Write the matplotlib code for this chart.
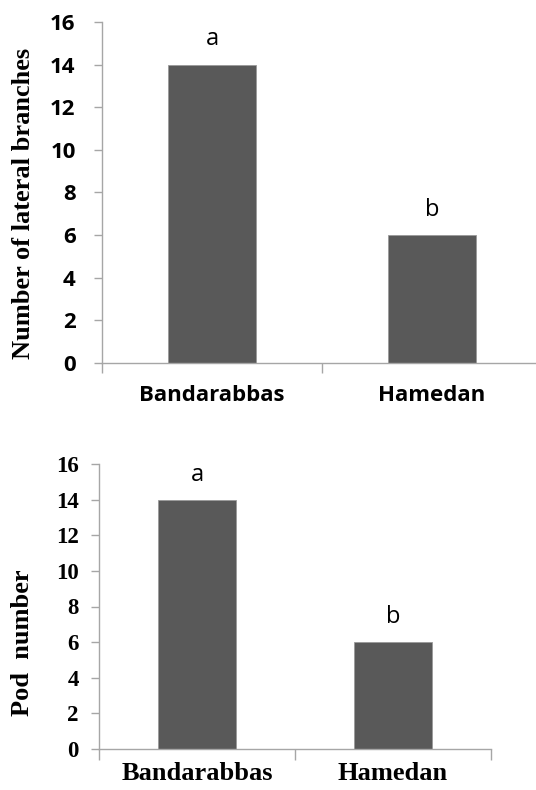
import matplotlib
matplotlib.use("Agg")
from matplotlib import pyplot as plt

sites = ['Bandarabbas', 'Hamedan']
lateral_branches = [14, 6]
pod_number = [14, 6]
letters = ['a', 'b']
y_ticks = [0, 2, 4, 6, 8, 10, 12, 14, 16]

bar_color = '#595959'
axis_color = '#a6a6a6'

fig = plt.figure(figsize=(5.36, 7.9), dpi=100)

# top panel (Calibri-like sans labels)
ax1 = fig.add_axes([102 / 536, 1 - 363 / 790, 440 / 536, 341 / 790])
# bottom panel (Times labels)
ax2 = fig.add_axes([99 / 536, 1 - 749 / 790, 392 / 536, 285 / 790])

panels = [
    (ax1, lateral_branches, 'Number of lateral branches', 'Open Sans', 16, 13, 16, 16,
     (-0.152, 0.469), 1.2, 7),
    (ax2, pod_number, 'Pod  number', 'Liberation Serif', 16.5, 8.5, 19, 9,
     (-0.165, 0.372), 1.4, 8),
]

for ax, vals, ylab, fam, tsize, tpad, xsize, xpad, lab_xy, off, xtl in panels:
    ax.bar(range(len(sites)), vals, width=0.4, color=bar_color,
           edgecolor='#9a9a9a', linewidth=0.6, zorder=2)
    for i, v in enumerate(vals):
        ax.text(i, v + off, letters[i], ha='center', va='center',
                fontsize=17, family='Open Sans', color='black')
    ax.set_xlim(-0.5, len(sites) - 0.5)
    ax.set_ylim(0, 16)
    ax.set_yticks(y_ticks)
    ax.set_yticklabels([str(t) for t in y_ticks], fontsize=tsize,
                       family=fam, fontweight='bold')
    ax.set_xticks([-0.5, 0.5, 1.5])
    ax.set_xticklabels([])
    ax.set_xticks([0, 1], minor=True)
    ax.set_xticklabels(sites, minor=True, fontsize=xsize, family=fam,
                       fontweight='bold')
    ax.tick_params(axis='x', which='major', length=xtl, width=1,
                   color=axis_color, direction='out')
    ax.tick_params(axis='x', which='minor', length=0, pad=xpad)
    ax.tick_params(axis='y', length=6, width=1, color=axis_color,
                   direction='out', pad=tpad)
    for s in ['top', 'right']:
        ax.spines[s].set_visible(False)
    for s in ['left', 'bottom']:
        ax.spines[s].set_color(axis_color)
        ax.spines[s].set_linewidth(1)
    ax.set_ylabel(ylab, family='Liberation Serif', fontweight='bold',
                  fontsize=19)
    ax.yaxis.set_label_coords(*lab_xy)

plt.savefig('out.png', dpi=100)
